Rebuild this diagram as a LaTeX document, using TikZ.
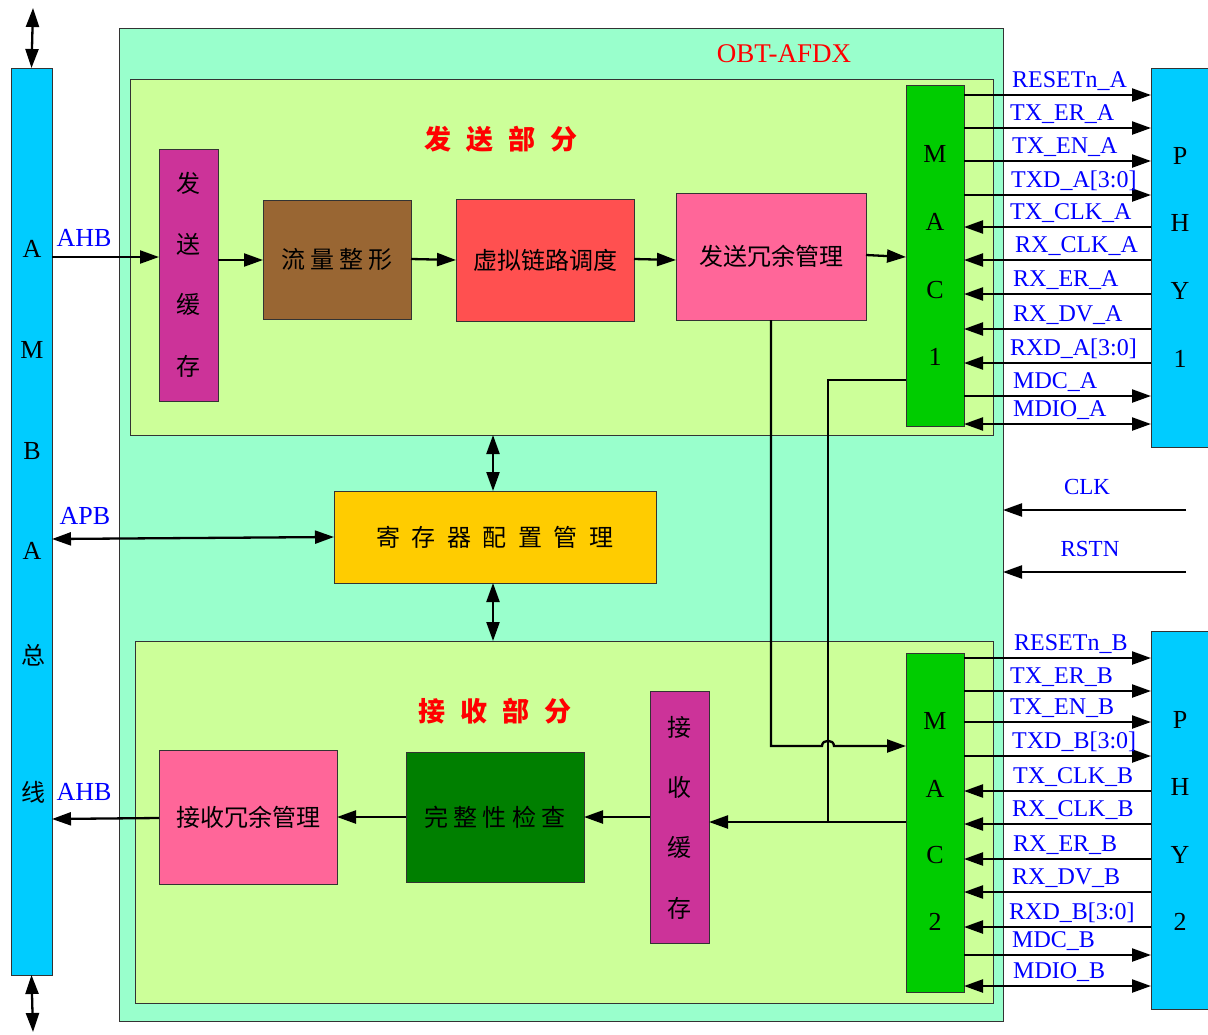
\documentclass[tikz,border=0pt]{standalone}
\usepackage{fontspec}
\setmainfont{Liberation Serif}
\newfontfamily\cjk{Noto Sans CJK SC}
\usetikzlibrary{arrows.meta}
\definecolor{cbus}{HTML}{00CCFF}
\definecolor{cteal}{HTML}{99FFCC}
\definecolor{clime}{HTML}{CCFF99}
\definecolor{cmag}{HTML}{CC3399}
\definecolor{cbrown}{HTML}{996633}
\definecolor{cred}{HTML}{FF5050}
\definecolor{cpink}{HTML}{FF6699}
\definecolor{cmac}{HTML}{00CC00}
\definecolor{cdg}{HTML}{007F00}
\definecolor{cyel}{HTML}{FFCC00}
\definecolor{lblue}{HTML}{0000FF}
\definecolor{tred}{HTML}{FF0000}
\begin{document}
\begin{tikzpicture}[x=1pt,y=-1pt,
  box/.style={draw=black!80, line width=0.8pt, inner sep=0pt, outer sep=0pt, rectangle},
  conn/.style={line width=2.3pt, draw=black},
  arr/.style={conn, -{Triangle[length=19pt,width=13pt]}},
  darr/.style={conn, {Triangle[length=19pt,width=13pt]}-{Triangle[length=19pt,width=13pt]}},
  sigr/.style={conn, -{Triangle[length=19pt,width=13pt]}},
  sigl/.style={conn, {Triangle[length=19pt,width=13pt]}-},
  sigb/.style={conn, {Triangle[length=19pt,width=13pt]}-{Triangle[length=19pt,width=13pt]}},
  lbl/.style={text=lblue, font=\fontsize{24}{26}\selectfont, anchor=base west, inner sep=0pt},
  big/.style={font=\fontsize{26}{28}\selectfont, inner sep=0pt},
  zh/.style={font=\cjk\fontsize{24}{26}\selectfont, inner sep=0pt},
  ttl/.style={font=\cjk\bfseries\fontsize{27}{29}\selectfont, text=tred, inner sep=0pt},
]
\useasboundingbox (0,0) rectangle (1208,1034);
\fill[white] (0,0) rectangle (1208,1034);

% containers
\node[box, fill=cteal, minimum width=884pt, minimum height=993pt] (outer) at (561,524.5) {};
\node[box, fill=clime, minimum width=863pt, minimum height=356pt] (toplime) at (561.5,257) {};
\node[box, fill=clime, minimum width=858pt, minimum height=362pt] (botlime) at (564,822) {};
\node[font=\fontsize{27}{29}\selectfont, text=tred, inner sep=0pt] (obt) at (784,54) {OBT-AFDX};
\node[ttl] (sendttl) at (501,139) {发\hspace{15pt}送\hspace{15pt}部\hspace{15pt}分};
\node[ttl] (recvttl) at (495,711) {接\hspace{15pt}收\hspace{15pt}部\hspace{15pt}分};

% AMBA bus
\node[box, fill=cbus, minimum width=41pt, minimum height=907pt] (amba) at (31.5,521.5) {};
\node[big] (am1) at (32,249) {A};
\node[big] (am2) at (32,350) {M};
\node[big] (am3) at (32,451) {B};
\node[big] (am4) at (32,551) {A};
\node[zh] (am5) at (33,655) {总};
\node[zh] (am6) at (33,792) {线};
\coordinate (ambatop) at (33,8);
\coordinate (ambabot) at (33,1032);
\draw[darr] (ambatop) -- (amba.north);
\draw[darr] (amba.south) -- (ambabot);

% send part
\node[box, fill=cmag, minimum width=59pt, minimum height=252pt] (txbuf) at (188.5,275) {};
\node[zh] (tb1) at (188.5,183) {发};
\node[zh] (tb2) at (188.5,244) {送};
\node[zh] (tb3) at (188.5,304) {缓};
\node[zh] (tb4) at (188.5,366) {存};
\node[box, fill=cbrown, minimum width=148pt, minimum height=119pt, zh] (shaping) at (337,259.5) {流\hspace{5pt}量\hspace{5pt}整\hspace{5pt}形};
\node[box, fill=cred, minimum width=178pt, minimum height=122pt, zh] (vl) at (545,260) {虚拟链路调度};
\node[box, fill=cpink, minimum width=190pt, minimum height=127pt, zh] (txred) at (771,256.5) {发送冗余管理};
\node[box, fill=cmac, minimum width=58pt, minimum height=341pt] (mac1) at (935,255.5) {};
\node[big] (m1a) at (935,154) {M};
\node[big] (m1b) at (935,222) {A};
\node[big] (m1c) at (935,290) {C};
\node[big] (m1d) at (935,357) {1};
\node[box, fill=cbus, minimum width=57pt, minimum height=379pt] (phy1) at (1179.5,257.5) {};
\node[big] (p1a) at (1180,156) {P};
\node[big] (p1b) at (1180,223) {H};
\node[big] (p1c) at (1180,291) {Y};
\node[big] (p1d) at (1180,359) {1};

% register config
\node[box, fill=cyel, minimum width=322pt, minimum height=92pt, zh] (reg) at (495,537) {寄\hspace{11.5pt}存\hspace{11.5pt}器\hspace{11.5pt}配\hspace{11.5pt}置\hspace{11.5pt}管\hspace{11.5pt}理};

% receive part
\node[box, fill=cmag, minimum width=59pt, minimum height=252pt] (rxbuf) at (679.5,817) {};
\node[zh] (rb1) at (679.5,727) {接};
\node[zh] (rb2) at (679.5,787) {收};
\node[zh] (rb3) at (679.5,847) {缓};
\node[zh] (rb4) at (679.5,908) {存};
\node[box, fill=cdg, minimum width=178pt, minimum height=130pt, zh] (integ) at (495,817) {完\hspace{5.5pt}整\hspace{5.5pt}性\hspace{5.5pt}检\hspace{5.5pt}查};
\node[box, fill=cpink, minimum width=178pt, minimum height=134pt, zh] (rxred) at (248,817) {接收冗余管理};
\node[box, fill=cmac, minimum width=58pt, minimum height=339pt] (mac2) at (935,822.5) {};
\node[big] (m2a) at (935,721) {M};
\node[big] (m2b) at (935,789) {A};
\node[big] (m2c) at (935,855) {C};
\node[big] (m2d) at (935,922) {2};
\node[box, fill=cbus, minimum width=57pt, minimum height=378pt] (phy2) at (1179.5,820) {};
\node[big] (p2a) at (1180,720) {P};
\node[big] (p2b) at (1180,787) {H};
\node[big] (p2c) at (1180,855) {Y};
\node[big] (p2d) at (1180,922) {2};

% send chain
\draw[arr] (amba.east |- 0,257) -- (txbuf.west |- 0,257);
\node[text=lblue, font=\fontsize{26}{28}\selectfont, inner sep=0pt] (ahb1) at (84,238) {AHB};
\draw[arr] (txbuf.east |- 0,260) -- (shaping.west |- 0,260);
\draw[arr] (shaping.east |- 0,259) -- (vl.west |- 0,260);
\draw[arr] (vl.east |- 0,259) -- (txred.west |- 0,260);
\draw[arr] (txred.east |- 0,255) -- (mac1.west |- 0,257);

% register connections
\draw[darr] (amba.east |- 0,539) -- (reg.west |- 0,537);
\node[text=lblue, font=\fontsize{26}{28}\selectfont, inner sep=0pt] (apb) at (85,516) {APB};
\draw[darr] (toplime.south -| 493,0) -- (reg.north -| 493,0);
\draw[darr] (reg.south -| 493,0) -- (botlime.north -| 493,0);

% cross connections
\draw[conn] (mac1.west |- 0,380) -| (828,822);
\draw[arr] (txred.south) |- (822,746) .. controls (822,739) and (834,739) .. (834,746) -- (mac2.west |- 0,746);
\draw[arr] (mac2.west |- 0,822) -- (rxbuf.east |- 0,822);

% receive chain
\draw[arr] (rxbuf.west |- 0,817) -- (integ.east |- 0,817);
\draw[arr] (integ.west |- 0,817) -- (rxred.east |- 0,817);
\draw[arr] (rxred.west |- 0,818) -- (amba.east |- 0,819);
\node[text=lblue, font=\fontsize{26}{28}\selectfont, inner sep=0pt] (ahb2) at (84,792) {AHB};

% CLK / RSTN
\coordinate (clkin) at (1186,510);
\coordinate (rstin) at (1186,572);
\draw[arr] (clkin) -- (outer.east |- clkin);
\draw[arr] (rstin) -- (outer.east |- rstin);
\node[text=lblue, font=\fontsize{23}{25}\selectfont, inner sep=0pt] (clk) at (1087,487) {CLK};
\node[text=lblue, font=\fontsize{23}{25}\selectfont, inner sep=0pt] (rstn) at (1090,549) {RSTN};

% PHY1 signals
\foreach \y/\lx/\st/\txt in {95/1012/sigr/{RESETn\_A}, 128/1010/sigr/{TX\_ER\_A}, 161/1012/sigr/{TX\_EN\_A}, 195/1011/sigr/{TXD\_A[3:0]}, 227/1010/sigl/{TX\_CLK\_A}, 260/1015/sigl/{RX\_CLK\_A}, 294/1013/sigl/{RX\_ER\_A}, 329/1013/sigl/{RX\_DV\_A}, 363/1010/sigl/{RXD\_A[3:0]}, 396/1013/sigr/{MDC\_A}, 424/1013/sigb/{MDIO\_A}} {
  \draw[\st] (mac1.east |- 0,\y) -- (phy1.west |- 0,\y);
  \node[lbl] (la\y) at (\lx,\y-8) {\txt};
}
% PHY2 signals
\foreach \y/\lx/\st/\txt in {658/1014/sigr/{RESETn\_B}, 691/1010/sigr/{TX\_ER\_B}, 722/1010/sigr/{TX\_EN\_B}, 756/1012/sigr/{TXD\_B[3:0]}, 791/1013/sigl/{TX\_CLK\_B}, 824/1012/sigl/{RX\_CLK\_B}, 859/1013/sigl/{RX\_ER\_B}, 892/1012/sigl/{RX\_DV\_B}, 927/1009/sigl/{RXD\_B[3:0]}, 955/1012/sigr/{MDC\_B}, 986/1013/sigb/{MDIO\_B}} {
  \draw[\st] (mac2.east |- 0,\y) -- (phy2.west |- 0,\y);
  \node[lbl] (lb\y) at (\lx,\y-8) {\txt};
}
\end{tikzpicture}
\end{document}
